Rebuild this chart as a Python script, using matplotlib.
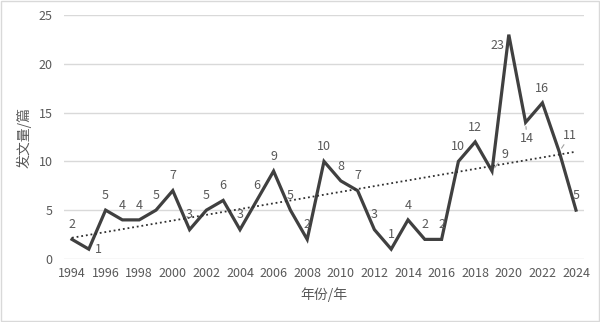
import matplotlib
matplotlib.use('Agg')
import matplotlib.pyplot as plt
from matplotlib.patches import Rectangle
import numpy as np

plt.rcParams['font.family'] = ['Noto Sans CJK SC', 'DejaVu Sans']

# Data
years = list(range(1994, 2025))
counts = [2, 1, 5, 4, 4, 5, 7, 3, 5, 6, 3, 6, 9, 5, 2, 10, 8, 7, 3, 1, 4, 2, 2,
          10, 12, 9, 23, 14, 16, 11, 5]
y_ticks = [0, 5, 10, 15, 20, 25]
x_ticks = list(range(1994, 2025, 2))

# label offsets in points (default: above the point)
label_offsets = {1995: (7, 0), 2019: (9, 7), 2020: (-8, -3),
                 2021: (1, -7), 2023: (8, 7)}
leader_years = {2019, 2021, 2023}

LINE = '#404040'
TEXT = '#595959'
GRID = '#d9d9d9'

fig = plt.figure(figsize=(6.0, 3.22), dpi=100)
ax = fig.add_axes([0.106, 0.196, 0.868, 0.757])

ax.plot(years, counts, color=LINE, lw=2.3, solid_joinstyle='miter', zorder=3)

# linear trend line
coef = np.polyfit(years, counts, 1)
ax.plot(years, np.polyval(coef, years), color='#303030', lw=1.3,
        linestyle=(0, (1, 1.6)), zorder=4)

for yr, c in zip(years, counts):
    dx, dy = label_offsets.get(yr, (0, 6))
    va = 'bottom' if dy > 0 else ('center' if dy == 0 else 'top')
    arrow = dict(arrowstyle='-', color='#a0a0a0', lw=0.8,
                 shrinkA=0, shrinkB=3) if yr in leader_years else None
    ax.annotate(str(c), (yr, c), xytext=(dx, dy), textcoords='offset points',
                ha='center', va=va, fontsize=9, color=TEXT,
                arrowprops=arrow, zorder=5)

ax.set_xlim(years[0] - 0.5, years[-1] + 0.5)
ax.set_ylim(0, 25)
ax.set_yticks(y_ticks)
ax.set_xticks(x_ticks)
ax.grid(axis='y', color=GRID, lw=1)
ax.set_axisbelow(True)
for s in ax.spines.values():
    s.set_visible(False)
ax.tick_params(length=0, labelsize=9, labelcolor=TEXT)
ax.tick_params(axis='y', pad=8)
ax.tick_params(axis='x', pad=6)

ax.set_xlabel('年份/年', fontsize=10, color=TEXT, labelpad=5)
ax.set_ylabel('发文量/篇', fontsize=10, color=TEXT, labelpad=5)

fig.patches.append(Rectangle((0.002, 0.003), 0.996, 0.994, transform=fig.transFigure,
                             fill=False, edgecolor='#d9d9d9', lw=1))

fig.savefig('out.png', dpi=100)
